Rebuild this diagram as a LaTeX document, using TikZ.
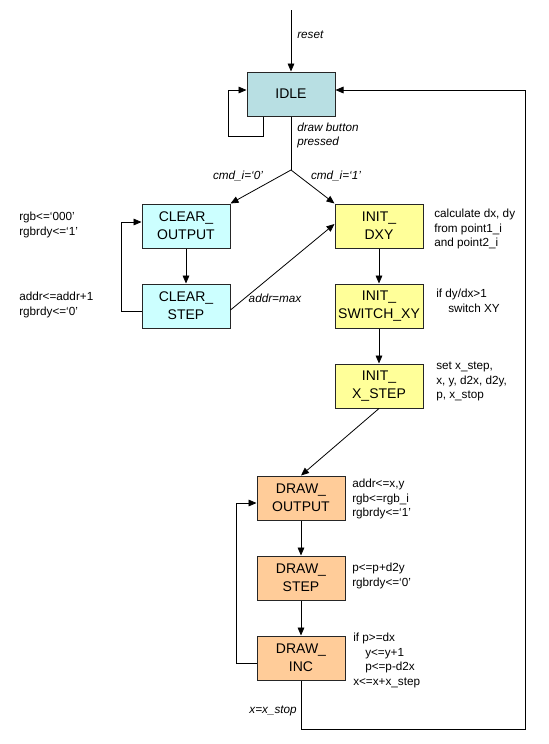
\documentclass[tikz,border=0pt]{standalone}
\usepackage{fontspec}
\setmainfont{Liberation Sans}
\usetikzlibrary{positioning, arrows.meta}
\definecolor{idleblue}{HTML}{B8DFE3}
\definecolor{clearcyan}{HTML}{CCFFFF}
\definecolor{inityellow}{HTML}{FFFF99}
\definecolor{draworange}{HTML}{FFCC99}

\begin{document}
\begin{tikzpicture}
		[x=0.75pt, y=-0.75pt, node distance=26.25pt,
		 state/.style={draw=black!85, line width=0.75pt, minimum width=66pt, minimum height=33pt, align=center, inner sep=0pt, font=\fontsize{10.5}{13.5}\selectfont},
		 note/.style={anchor=north west, align=left, inner sep=0pt, font=\fontsize{8.8}{10.9}\selectfont},
		 cond/.style={inner sep=0pt, font=\fontsize{8.8}{10.5}\selectfont\itshape},
		 arr/.style={-{Triangle[length=6pt, width=5pt]}, line width=0.6pt}]
	
		\useasboundingbox (0,0) rectangle (549,744);
	
		% states %
		\node[state, fill=idleblue] (idle) at (291,94) {IDLE};
		\node[state, fill=clearcyan] (clearout) at (186,226) {CLEAR\_\\OUTPUT};
		\node[state, fill=clearcyan, below=of clearout] (clearstep) {CLEAR\_\\STEP};
		\node[state, fill=inityellow] (initdxy) at (379,226) {INIT\_\\DXY};
		\node[state, fill=inityellow, below=of initdxy] (initswitch) {INIT\_\\SWITCH\_XY};
		\node[state, fill=inityellow, below=of initswitch] (initxstep) {INIT\_\\X\_STEP};
		\node[state, fill=draworange] (drawout) at (301,498) {DRAW\_\\OUTPUT};
		\node[state, fill=draworange, below=of drawout] (drawstep) {DRAW\_\\STEP};
		\node[state, fill=draworange, below=of drawstep] (drawinc) {DRAW\_\\INC};
	
		% actions %
		\node[note] (nclearout) at (19,212) {rgb<=`000'\\rgbrdy<=`1'};
		\node[note] (nclearstep) at (19,292) {addr<=addr+1\\rgbrdy<=`0'};
		\node[note] (ninitdxy) at (434,209) {calculate dx, dy\\from point1\_i\\and point2\_i};
		\node[note] (ninitswitch) at (436,289) {if dy/dx>1\\\hspace*{9pt}switch XY};
		\node[note] (ninitxstep) at (436,362) {set x\_step,\\x, y, d2x, d2y,\\p, x\_stop};
		\node[note] (ndrawout) at (352,479) {addr<=x,y\\rgb<=rgb\_i\\rgbrdy<=`1'};
		\node[note] (ndrawstep) at (352,563) {p<=p+d2y\\rgbrdy<=`0'};
		\node[note] (ndrawinc) at (353,633) {if p>=dx\\\hspace*{9pt}y<=y+1\\\hspace*{9pt}p<=p-d2x\\x<=x+x\_step};
	
		% conditions %
		\node[cond, anchor=west] (lreset) at (297,35) {reset};
		\node[cond, anchor=north west, align=left] (lpressed) at (297,123) {draw button\\pressed};
		\node[cond] (lcmd0) at (238,176) {cmd\_i=`0'};
		\node[cond] (lcmd1) at (336,176) {cmd\_i=`1'};
		\node[cond] (lmax) at (275,298) {addr=max};
		\node[cond, anchor=east] (lstop) at (297,711) {x=x\_stop};
	
		% points %
		\coordinate (start) at (291,10);
		\coordinate (split) at (291,170);
		\coordinate (idleloop) at (263,136);
		\coordinate (backlow) at (525,729);
		\coordinate (backtop) at (525,90);
	
		% edges %
		\draw[arr] (start) -- (idle.north);
		\draw[arr] (idle.south -| idleloop) -- (idleloop) -- ++(-35,0) |- ([yshift=3pt]idle.west);
		\draw[line width=0.6pt] (idle.south) -- (split);
		\draw[arr] (split) -- (clearout.north east);
		\draw[arr] (split) -- (initdxy.north west);
		\draw[arr] (clearout) -- (clearstep);
		\draw[arr] ([yshift=-3.75pt]clearstep.west) -- ++(-20,0) |- ([yshift=3pt]clearout.west);
		\draw[arr] ([yshift=-3pt]clearstep.east) -- ([yshift=1.5pt]initdxy.west);
		\draw[arr] (initdxy) -- (initswitch);
		\draw[arr] (initswitch) -- (initxstep);
		\draw[arr] (initxstep.south) -- (drawout.north);
		\draw[arr] (drawout) -- (drawstep);
		\draw[arr] (drawstep) -- (drawinc);
		\draw[arr] ([yshift=-3.75pt]drawinc.west) -- ++(-20,0) |- ([yshift=-3.75pt]drawout.west);
		\draw[arr] (drawinc.south) |- (backlow) -- (backtop) -- (idle.east |- backtop);
	
\end{tikzpicture}
\end{document}
